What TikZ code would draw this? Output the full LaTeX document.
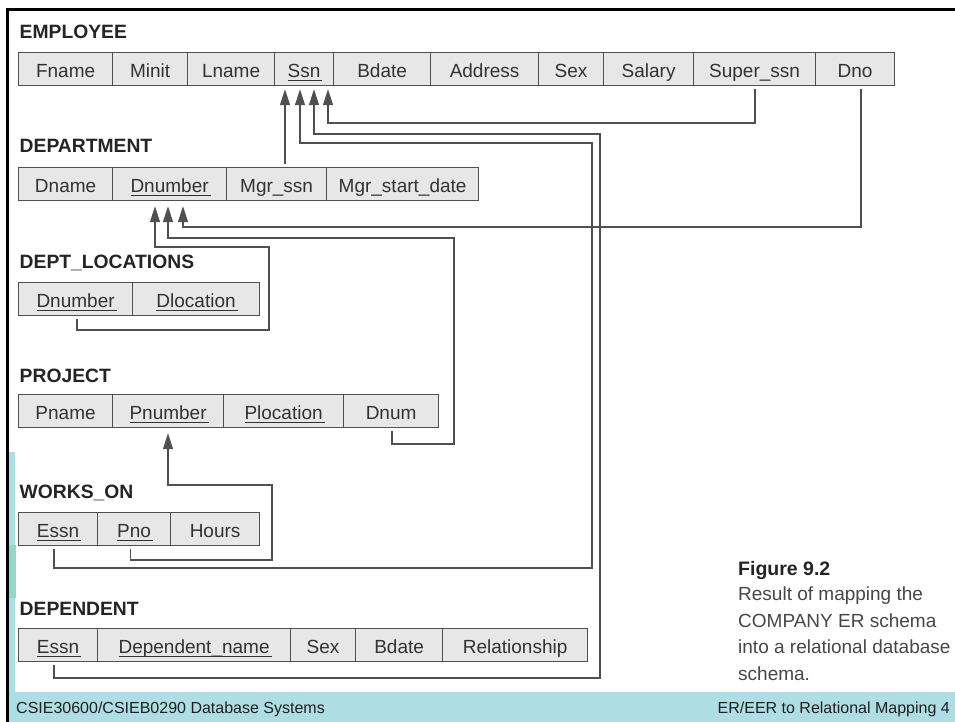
\documentclass[tikz,border=0pt]{standalone}
\usepackage{fontspec}
\setmainfont{Liberation Sans}
\usetikzlibrary{arrows.meta}

\definecolor{cellfill}{RGB}{231,231,231}
\definecolor{cellborder}{RGB}{80,80,80}
\definecolor{linecol}{RGB}{80,80,80}
\definecolor{textcol}{RGB}{50,50,50}
\definecolor{titlecol}{RGB}{36,36,36}
\definecolor{captext}{RGB}{70,70,70}
\definecolor{slideteal}{RGB}{174,221,227}
\definecolor{slidemint}{RGB}{150,214,196}

% key attribute: text with a rule under it
\newcommand\keyattr[1]{\setbox0=\hbox{#1}\rlap{\color{textcol}\rule[-3.6pt]{\dimexpr\wd0+2pt\relax}{1pt}}\box0}

\tikzset{
  cell/.style={draw=cellborder, line width=1.2pt, fill=cellfill, rectangle,
    inner sep=0pt, minimum height=33pt, anchor=north west,
    text height=17pt, text depth=0pt, text=textcol,
    font=\fontsize{19}{23}\selectfont},
  reltitle/.style={anchor=base west, inner sep=0pt, text=titlecol,
    font=\bfseries\fontsize{19.3}{23}\selectfont},
  fk/.style={draw=linecol, line width=1.3pt},
  fkarrow/.style={fk, -{Triangle[length=16pt,width=10pt]}},
  captionline/.style={anchor=base west, inner sep=0pt, text=captext,
    font=\fontsize{19}{23}\selectfont},
  footer/.style={inner sep=0pt, text=black!88, font=\fontsize{16}{19}\selectfont}
}

\begin{document}
\begin{tikzpicture}[x=1pt,y=-1pt]
\useasboundingbox (0,0) rectangle (955,722);

% slide background: footer band and left strip
\fill[slideteal] (9,692) rectangle (955,722);
\fill[slideteal] (9,452) rectangle (15,692);
\fill[slidemint] (9,545) rectangle (15.5,598);
\draw[line width=2.4pt, black] (7.5,722) -- (7.5,9.5) -- (955,9.5);

\node[footer, anchor=base west] (foot1) at (16,713) {CSIE30600/CSIEB0290 Database Systems};
\node[footer, anchor=base east] (foot2) at (950,713) {ER/EER to Relational Mapping 4};

% EMPLOYEE
\node[reltitle] (tEmp) at (19.5,39) {EMPLOYEE};
\node[cell, minimum width=94pt]  (eFname)  at (18,52)  {Fname};
\node[cell, minimum width=75pt]  (eMinit)  at (112,52) {Minit};
\node[cell, minimum width=87pt]  (eLname)  at (187,52) {Lname};
\node[cell, minimum width=59pt]  (eSsn)    at (274,52) {\keyattr{Ssn}};
\node[cell, minimum width=97pt]  (eBdate)  at (333,52) {Bdate};
\node[cell, minimum width=108pt] (eAddr)   at (430,52) {Address};
\node[cell, minimum width=65pt]  (eSex)    at (538,52) {Sex};
\node[cell, minimum width=90pt]  (eSalary) at (603,52) {Salary};
\node[cell, minimum width=122pt] (eSuper)  at (693,52) {Super\_ssn};
\node[cell, minimum width=79pt]  (eDno)    at (815,52) {Dno};

% DEPARTMENT
\node[reltitle] (tDept) at (19.5,153) {DEPARTMENT};
\node[cell, minimum width=94pt]  (dName)   at (18,167)  {Dname};
\node[cell, minimum width=114pt] (dNumber) at (112,167) {\keyattr{Dnumber}};
\node[cell, minimum width=100pt] (dMgr)    at (226,167) {Mgr\_ssn};
\node[cell, minimum width=152pt] (dStart)  at (326,167) {Mgr\_start\_date};

% DEPT_LOCATIONS
\node[reltitle] (tLoc) at (19.5,268) {DEPT\_LOCATIONS};
\node[cell, minimum width=114pt] (lNumber) at (18,282)  {\keyattr{Dnumber}};
\node[cell, minimum width=127pt] (lLoc)    at (132,282) {\keyattr{Dlocation}};

% PROJECT
\node[reltitle] (tProj) at (19.5,382) {PROJECT};
\node[cell, minimum width=94pt]  (pName)   at (18,394)  {Pname};
\node[cell, minimum width=111pt] (pNumber) at (112,394) {\keyattr{Pnumber}};
\node[cell, minimum width=120pt] (pLoc)    at (223,394) {\keyattr{Plocation}};
\node[cell, minimum width=95pt]  (pDnum)   at (343,394) {Dnum};

% WORKS_ON
\node[reltitle] (tWorks) at (19.5,498) {WORKS\_ON};
\node[cell, minimum width=79pt] (wEssn)  at (18,512)  {\keyattr{Essn}};
\node[cell, minimum width=73pt] (wPno)   at (97,512)  {\keyattr{Pno}};
\node[cell, minimum width=89pt] (wHours) at (170,512) {Hours};

% DEPENDENT
\node[reltitle] (tDep) at (19.5,615) {DEPENDENT};
\node[cell, minimum width=79pt]  (xEssn)  at (18,628)  {\keyattr{Essn}};
\node[cell, minimum width=193pt] (xName)  at (97,628)  {\keyattr{Dependent\_name}};
\node[cell, minimum width=65pt]  (xSex)   at (290,628) {Sex};
\node[cell, minimum width=87pt]  (xBdate) at (355,628) {Bdate};
\node[cell, minimum width=145pt] (xRel)   at (442,628) {Relationship};

% caption
\node[captionline, text=titlecol, font=\bfseries\fontsize{19.5}{23}\selectfont] (cap0) at (738,575) {Figure 9.2};
\node[captionline] (cap1) at (738,600) {Result of mapping the};
\node[captionline] (cap2) at (738,627) {COMPANY ER schema};
\node[captionline] (cap3) at (738,653) {into a relational database};
\node[captionline] (cap4) at (738,680) {schema.};

% connector ends
\coordinate (ssnT1) at ([xshift=11pt,yshift=-3pt]eSsn.south west);
\coordinate (ssnT2) at ([xshift=26pt,yshift=-3pt]eSsn.south west);
\coordinate (ssnT3) at ([xshift=40pt,yshift=-3pt]eSsn.south west);
\coordinate (ssnT4) at ([xshift=54pt,yshift=-3pt]eSsn.south west);
\coordinate (dnoT1) at ([xshift=43pt,yshift=-5pt]dNumber.south west);
\coordinate (dnoT2) at ([xshift=56pt,yshift=-5pt]dNumber.south west);
\coordinate (dnoT3) at ([xshift=71pt,yshift=-5pt]dNumber.south west);
\coordinate (pnoT)  at ([xshift=56pt,yshift=-5pt]pNumber.south west);

\coordinate (mgrS)   at ([xshift=59pt,yshift=3pt]dMgr.north west);
\coordinate (superS) at ([xshift=62pt,yshift=-3pt]eSuper.south west);
\coordinate (dnoS)   at ([xshift=46pt,yshift=-3pt]eDno.south west);
\coordinate (wEssnS) at ([xshift=36pt,yshift=-3pt]wEssn.south west);
\coordinate (xEssnS) at ([xshift=36pt,yshift=-3pt]xEssn.south west);
\coordinate (lNumS)  at ([xshift=59pt,yshift=-3pt]lNumber.south west);
\coordinate (dnumS)  at ([xshift=49pt,yshift=-3pt]pDnum.south west);
\coordinate (pnoS)   at ([xshift=33.5pt,yshift=-3pt]wPno.south west);

% foreign keys into EMPLOYEE.Ssn
\draw[fkarrow] (mgrS) -- (ssnT1);
\draw[fkarrow] (wEssnS) |- (592,568) |- (ssnT2 |- 0,143) -- (ssnT2);
\draw[fkarrow] (xEssnS) |- (600,678) |- (ssnT3 |- 0,134) -- (ssnT3);
\draw[fkarrow] (superS) |- (ssnT4 |- 0,123) -- (ssnT4);

% foreign keys into DEPARTMENT.Dnumber
\draw[fkarrow] (lNumS) |- (269,330) |- (dnoT1 |- 0,247) -- (dnoT1);
\draw[fkarrow] (dnumS) |- (454,444) |- (dnoT2 |- 0,238) -- (dnoT2);
\draw[fkarrow] (dnoS) |- (dnoT3 |- 0,227) -- (dnoT3);

% foreign key into PROJECT.Pnumber
\draw[fkarrow] (pnoS) |- (272,560) |- (pnoT |- 0,485) -- (pnoT);
\end{tikzpicture}
\end{document}
